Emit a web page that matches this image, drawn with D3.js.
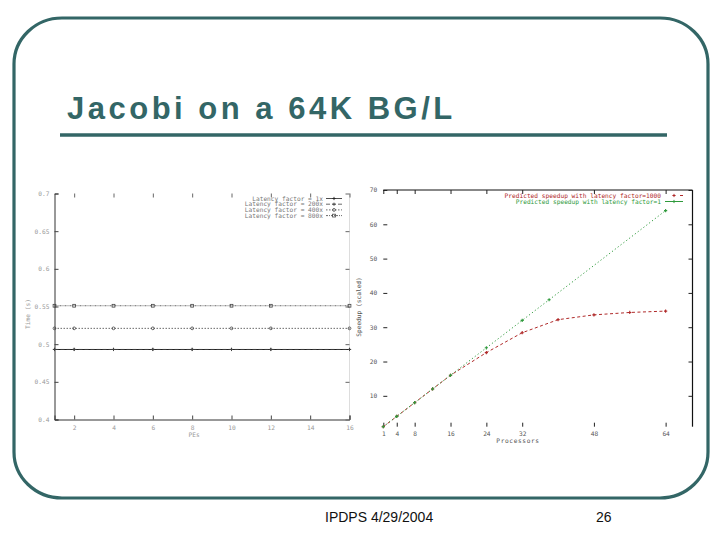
<!DOCTYPE html>
<html><head><meta charset="utf-8">
<script src="https://cdn.jsdelivr.net/npm/d3@7"></script>
<style>body{margin:0;background:#fff}svg{display:block}</style>
</head><body>
<script>
// ---------- data ----------
const titleText = "Jacobi on a 64K BG/L";
const footerLeft = "IPDPS 4/29/2004";
const footerRight = "26";

// left chart: time per iteration vs PEs
const leftPEs = [1, 2, 4, 6, 8, 10, 12, 16];
const leftTicksX = [2, 4, 6, 8, 10, 12, 14, 16];
const leftTicksY = [0.4, 0.45, 0.5, 0.55, 0.6, 0.65, 0.7];
const leftNames = ["Latency factor = 1x", "Latency factor = 200x", "Latency factor = 400x", "Latency factor = 800x"];
const lat1   = [0.493, 0.493, 0.493, 0.493, 0.493, 0.493, 0.493, 0.493];
const lat200 = [0.493, 0.493, 0.493, 0.493, 0.493, 0.493, 0.493, 0.493];
const lat400 = [0.521, 0.521, 0.521, 0.521, 0.521, 0.521, 0.521, 0.521];
const lat800 = [0.551, 0.551, 0.551, 0.551, 0.551, 0.551, 0.551, 0.551];

// right chart: predicted speedup vs processors
const rightTicksX = [1, 4, 8, 16, 24, 32, 48, 64];
const rightTicksY = [10, 20, 30, 40, 50, 60, 70];
const rightNames = ["Predicted speedup with latency factor=1000", "Predicted speedup with latency factor=1"];
const procsHigh = [1, 4, 8, 12, 16, 24, 32, 40, 48, 56, 64];
const speedHigh = [1, 4, 8, 12, 16, 22.6, 28.4, 32.2, 33.6, 34.3, 34.7];
const procsLow = [1, 4, 8, 12, 16, 24, 32, 38, 64];
const speedLow = [1, 4, 8, 12, 16, 24, 32, 38, 64];

// ---------- drawing ----------
const W = 720, H = 540;
const teal = "#336666";
const svg = d3.select("body").append("svg").attr("width", W).attr("height", H);
svg.append("rect").attr("width", W).attr("height", H).attr("fill", "#fff");

// slide frame
svg.append("rect").attr("x", 14).attr("y", 18).attr("width", 694).attr("height", 480)
  .attr("rx", 48).attr("ry", 46).attr("fill", "none").attr("stroke", teal).attr("stroke-width", 3.2);
svg.append("text").attr("x", 67).attr("y", 119).text(titleText)
  .attr("font-family", "Liberation Sans, Arial, sans-serif").attr("font-weight", "bold")
  .attr("font-size", 31).attr("letter-spacing", 3.5).attr("fill", teal);
svg.append("line").attr("x1", 60).attr("x2", 667).attr("y1", 135).attr("y2", 135)
  .attr("stroke", teal).attr("stroke-width", 3.5);
svg.append("text").attr("x", 325).attr("y", 522).text(footerLeft)
  .attr("font-family", "Liberation Sans, Arial, sans-serif").attr("font-size", 14).attr("fill", "#111");
svg.append("text").attr("x", 596).attr("y", 522).text(footerRight)
  .attr("font-family", "Liberation Sans, Arial, sans-serif").attr("font-size", 14).attr("fill", "#111");

const mono = "DejaVu Sans Mono, monospace";
const fs = 6.2;

// ---------- left chart ----------
{
  const x = d3.scaleLinear().domain([1, 16]).range([54.5, 349.5]);
  const y = d3.scaleLinear().domain([0.4, 0.7]).range([419.5, 193.5]);
  const g = svg.append("g");
  const gray = "#999";
  g.append("line").attr("x1", x(16)).attr("x2", x(16)).attr("y1", y(0.7)).attr("y2", y(0.4))
    .attr("stroke", "#ddd").attr("stroke-width", 1);
  const ax = g.append("g").attr("transform", `translate(0,${y(0.4)})`)
    .call(d3.axisBottom(x).tickValues(leftTicksX).tickSize(-4).tickPadding(6).tickFormat(d3.format("d")));
  const ay = g.append("g").attr("transform", `translate(${x(1)},0)`)
    .call(d3.axisLeft(y).tickValues(leftTicksY).tickSize(-4).tickPadding(5).tickFormat(d => String(d)));
  [ax, ay].forEach(a => {
    a.select(".domain").attr("stroke", "#333").attr("stroke-width", 1);
    a.selectAll(".tick line").attr("stroke", "#444");
    a.selectAll("text").attr("font-family", mono).attr("font-size", fs).attr("fill", gray);
  });
  g.append("g").attr("transform", `translate(0,${y(0.7)})`)
    .call(d3.axisTop(x).tickValues(leftTicksX).tickSize(-4).tickFormat(""))
    .call(s => { s.select(".domain").remove(); s.selectAll(".tick line").attr("stroke", "#666"); });
  g.append("g").attr("transform", `translate(${x(16)},0)`)
    .call(d3.axisRight(y).tickValues(leftTicksY).tickSize(-4).tickFormat(""))
    .call(s => { s.select(".domain").remove(); s.selectAll(".tick line").attr("stroke", "#666"); });
  g.append("text").attr("x", x(8.1)).attr("y", 437).attr("text-anchor", "middle").text("PEs")
    .attr("font-family", mono).attr("font-size", fs).attr("fill", gray);
  g.append("text").attr("transform", `translate(30,${y(0.54)}) rotate(-90)`).attr("text-anchor", "middle")
    .text("Time (s)").attr("font-family", mono).attr("font-size", fs).attr("fill", gray);

  const series = [
    {name: leftNames[0], vals: lat1,   dash: null,      mark: "plus",   col: "#222", w: 1.1},
    {name: leftNames[1], vals: lat200, dash: "4,2",     mark: "plus",   col: "#444", w: 0.8},
    {name: leftNames[2], vals: lat400, dash: "1.5,1.5", mark: "circle", col: "#444", w: 0.8},
    {name: leftNames[3], vals: lat800, dash: "2,1,1,1", mark: "square", col: "#444", w: 0.8}
  ];
  const line = d3.line().x(d => x(d[0])).y(d => y(d[1]));
  const drawMark = (sel, kind, col) => {
    if (kind === "plus") sel.append("path").attr("d", "M-1.6,0H1.6M0,-1.6V1.6").attr("stroke", col).attr("stroke-width", 0.9).attr("fill", "none");
    else if (kind === "circle") sel.append("circle").attr("r", 1.4).attr("fill", "none").attr("stroke", col).attr("stroke-width", 0.8);
    else sel.append("rect").attr("x", -1.4).attr("y", -1.4).attr("width", 2.8).attr("height", 2.8).attr("fill", "none").attr("stroke", col).attr("stroke-width", 0.8);
  };
  series.forEach((s, i) => {
    const pts = leftPEs.map((p, j) => [p, s.vals[j]]);
    g.append("path").attr("d", line(pts)).attr("fill", "none").attr("stroke", s.col)
      .attr("stroke-width", s.w).attr("stroke-dasharray", s.dash);
    pts.forEach(p => drawMark(g.append("g").attr("transform", `translate(${x(p[0])},${y(p[1])})`), s.mark, s.col));
    const ly = 198.5 + i * 5.7;
    g.append("text").attr("x", 323).attr("y", ly + 2).attr("text-anchor", "end").text(s.name)
      .attr("font-family", mono).attr("font-size", fs).attr("fill", "#777");
    g.append("line").attr("x1", 326).attr("x2", 342).attr("y1", ly).attr("y2", ly)
      .attr("stroke", s.col).attr("stroke-width", 0.8).attr("stroke-dasharray", s.dash);
    drawMark(g.append("g").attr("transform", `translate(334,${ly})`), s.mark, s.col);
  });
}

// ---------- right chart ----------
{
  const x = d3.scaleLinear().domain([1, 70]).range([383.3, 692.5]);
  const y = d3.scaleLinear().domain([1, 70]).range([426.7, 190]);
  const g = svg.append("g");
  const tc = "#555";
  g.append("line").attr("x1", x(1)).attr("x2", x(70)).attr("y1", y(70)).attr("y2", y(70)).attr("stroke", "#111").attr("stroke-width", 1);
  g.append("line").attr("x1", x(70)).attr("x2", x(70)).attr("y1", y(70)).attr("y2", y(1)).attr("stroke", "#111").attr("stroke-width", 1.2);
  const ax = g.append("g").attr("transform", `translate(0,${y(1)})`)
    .call(d3.axisBottom(x).tickValues(rightTicksX).tickSize(-4).tickPadding(5).tickFormat(d3.format("d")));
  const ay = g.append("g").attr("transform", `translate(${x(1)},0)`)
    .call(d3.axisLeft(y).tickValues(rightTicksY).tickSize(-4).tickPadding(6).tickFormat(d3.format("d")));
  [ax, ay].forEach(a => {
    a.select(".domain").remove();
    a.selectAll(".tick line").attr("stroke", "#222");
    a.selectAll("text").attr("font-family", mono).attr("font-size", fs).attr("fill", tc);
  });
  g.append("g").attr("transform", `translate(${x(70)},0)`)
    .call(d3.axisRight(y).tickValues(rightTicksY).tickSize(-4).tickFormat(""))
    .call(s => { s.select(".domain").remove(); s.selectAll(".tick line").attr("stroke", "#222"); });
  g.append("g").attr("transform", `translate(0,${y(70)})`)
    .call(d3.axisTop(x).tickValues(rightTicksX).tickSize(-4).tickFormat(""))
    .call(s => { s.select(".domain").remove(); s.selectAll(".tick line").attr("stroke", "#222"); });
  g.append("text").attr("x", 518).attr("y", 443).attr("text-anchor", "middle").text("Processors")
    .attr("font-family", mono).attr("font-size", fs).attr("fill", tc).attr("letter-spacing", 0.6);
  g.append("text").attr("transform", `translate(361,307) rotate(-90)`).attr("text-anchor", "middle")
    .text("Speedup (scaled)").attr("font-family", mono).attr("font-size", fs).attr("fill", tc);

  const red = "#b02a2a", green = "#2f9a3c";
  const line = d3.line().x(d => x(d[0])).y(d => y(d[1]));
  const sets = [
    {name: rightNames[0], px: procsHigh, sp: speedHigh, col: red, dash: "3,2.5"},
    {name: rightNames[1], px: procsLow, sp: speedLow, col: green, dash: "1.2,2.4"}
  ];
  sets.forEach((s, i) => {
    const pts = s.px.map((p, j) => [p, s.sp[j]]);
    g.append("path").attr("d", line(pts)).attr("fill", "none").attr("stroke", s.col)
      .attr("stroke-width", 1).attr("stroke-dasharray", s.dash);
    pts.forEach(p => g.append("path").attr("transform", `translate(${x(p[0])},${y(p[1])})`)
      .attr("d", "M-1.6,0H1.6M0,-1.6V1.6").attr("stroke", s.col).attr("stroke-width", 1.1));
    const ly = 195.5 + i * 6;
    g.append("text").attr("x", 661).attr("y", ly + 2).attr("text-anchor", "end").text(s.name)
      .attr("font-family", mono).attr("font-size", fs).attr("fill", s.col);
    g.append("line").attr("x1", 665).attr("x2", 683).attr("y1", ly).attr("y2", ly)
      .attr("stroke", s.col).attr("stroke-width", 1).attr("stroke-dasharray", i === 0 ? "0,15,3,3" : null);
    g.append("path").attr("transform", `translate(674,${ly})`).attr("d", "M-1.6,0H1.6M0,-1.6V1.6")
      .attr("stroke", s.col).attr("stroke-width", 1);
  });
}
</script>
</body></html>
